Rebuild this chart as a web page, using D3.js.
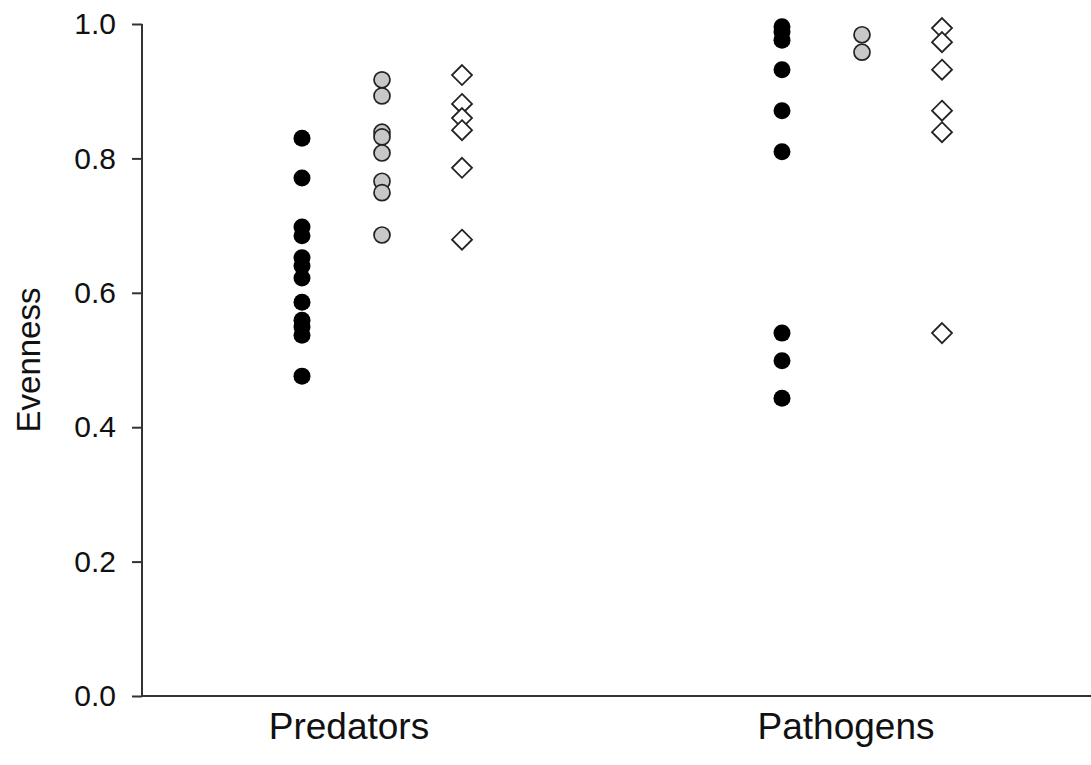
<!DOCTYPE html>
<html>
<head>
<meta charset="utf-8">
<script src="https://cdn.jsdelivr.net/npm/d3@7"></script>
<style>
	body { margin: 0; background: #fff; }
	text { font-family: "Liberation Sans", Arial, sans-serif; fill: #111; }
</style>
</head>
<body>
<svg id="chart" width="1091" height="765"></svg>
<script>
var categories = ["Predators", "Pathogens"];
var series = ["black", "grey", "open"];
var yTicks = [0.0, 0.2, 0.4, 0.6, 0.8, 1.0];

// evenness values
var predatorsBlack = [0.830, 0.771, 0.698, 0.685, 0.652, 0.640, 0.622, 0.586, 0.559, 0.549, 0.537, 0.476];
var predatorsGrey = [0.917, 0.893, 0.839, 0.832, 0.808, 0.766, 0.749, 0.686];
var predatorsOpen = [0.924, 0.881, 0.860, 0.842, 0.786, 0.679];
var pathogensBlack = [0.996, 0.988, 0.976, 0.932, 0.871, 0.810, 0.540, 0.499, 0.443];
var pathogensGrey = [0.984, 0.958];
var pathogensOpen = [0.994, 0.973, 0.932, 0.871, 0.839, 0.540];

var values = {
	Predators: { black: predatorsBlack, grey: predatorsGrey, open: predatorsOpen },
	Pathogens: { black: pathogensBlack, grey: pathogensGrey, open: pathogensOpen }
};

(function() {
	var points = [];
	categories.forEach(function(c) {
		series.forEach(function(s) {
			values[c][s].forEach(function(v) {
				points.push({ category: c, series: s, value: v });
			});
		});
	});

	var svg = d3.select("#chart");
	var mLeft = 142, mRight = 1091, mTop = 24, mBottom = 696;

	var y = d3.scaleLinear().domain([0, 1]).range([mBottom, mTop]);
	var xCat = d3.scalePoint().domain(categories).range([382, 862]);
	var xOff = d3.scalePoint().domain(series).range([-80, 80]);
	var xLabel = d3.scalePoint().domain(categories).range([349, 846]);

	// y axis
	var yAxis = svg.append("g")
		.attr("transform", "translate(" + mLeft + ",0)")
		.call(d3.axisLeft(y).tickValues(yTicks).tickFormat(d3.format(".1f")).tickSize(10).tickPadding(16));
	yAxis.select(".domain").attr("stroke", "#333").attr("stroke-width", 2).attr("d", "M0," + mTop + "V" + mBottom);
	yAxis.selectAll(".tick line").attr("stroke", "#333").attr("stroke-width", 2);
	yAxis.selectAll(".tick text").style("font-size", "30px").attr("fill", "#111");

	// x axis line
	svg.append("line")
		.attr("x1", mLeft).attr("x2", mRight)
		.attr("y1", mBottom).attr("y2", mBottom)
		.attr("stroke", "#333").attr("stroke-width", 2);

	// category labels
	svg.selectAll(".cat")
		.data(categories)
		.enter()
		.append("text")
		.attr("class", "cat")
		.attr("x", function(d) { return xLabel(d); })
		.attr("y", 739)
		.attr("text-anchor", "middle")
		.style("font-size", "37px")
		.text(function(d) { return d; });

	// y label
	svg.append("text")
		.attr("transform", "translate(40,360) rotate(-90)")
		.attr("text-anchor", "middle")
		.style("font-size", "33px")
		.text("Evenness");

	var marks = svg.append("g");

	marks.selectAll("circle")
		.data(points.filter(function(d) { return d.series !== "open"; }))
		.enter()
		.append("circle")
		.attr("cx", function(d) { return xCat(d.category) + xOff(d.series); })
		.attr("cy", function(d) { return y(d.value); })
		.attr("r", function(d) { return d.series === "black" ? 8.5 : 8; })
		.attr("fill", function(d) { return d.series === "black" ? "#000" : "#c8c8c8"; })
		.attr("stroke", function(d) { return d.series === "black" ? "none" : "#222"; })
		.attr("stroke-width", 1.7);

	marks.selectAll("path")
		.data(points.filter(function(d) { return d.series === "open"; }))
		.enter()
		.append("path")
		.attr("transform", function(d) {
			return "translate(" + (xCat(d.category) + xOff(d.series)) + "," + y(d.value) + ")";
		})
		.attr("d", "M0,-10L10,0L0,10L-10,0Z")
		.attr("fill", "#fff")
		.attr("stroke", "#222")
		.attr("stroke-width", 1.8);
})();
</script>
</body>
</html>
